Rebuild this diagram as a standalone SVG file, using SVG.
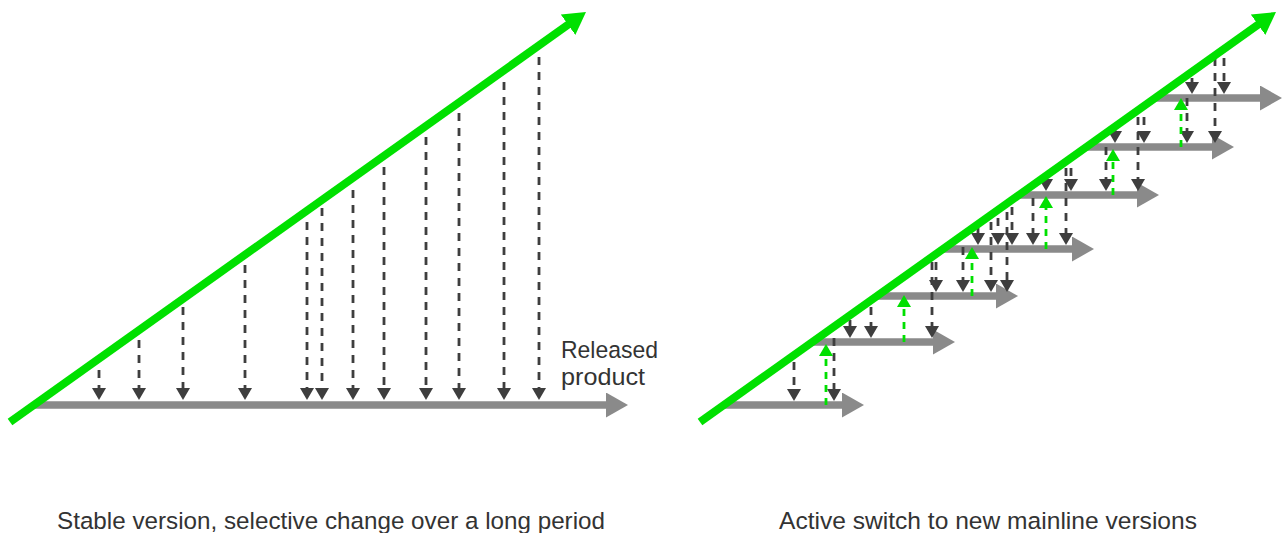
<svg xmlns="http://www.w3.org/2000/svg" width="1283" height="533" viewBox="0 0 1283 533">
<style>
.bar{stroke:#8a8a8a;stroke-width:7.5;fill:none;marker-end:url(#hgray)}
.main{stroke:#00e000;stroke-width:8;fill:none;marker-end:url(#hgreenbig)}
.dd{stroke:#3e3e3e;stroke-width:2.8;stroke-dasharray:8 7;fill:none;marker-end:url(#hd)}
.gd{stroke:#00e000;stroke-width:2.8;stroke-dasharray:7 6;fill:none;marker-end:url(#hg)}
.lbl{font-family:"Liberation Sans",Arial,sans-serif;font-size:24.5px;fill:#333}
</style>
<defs>
<marker id="hd" markerUnits="userSpaceOnUse" viewBox="0 0 12 14" markerWidth="12" markerHeight="14" refX="1" refY="7" orient="auto"><path d="M0,0 L12,7 L0,14 z" fill="#3e3e3e"/></marker>
<marker id="hg" markerUnits="userSpaceOnUse" viewBox="0 0 12 14" markerWidth="12" markerHeight="14" refX="1" refY="7" orient="auto"><path d="M0,0 L12,7 L0,14 z" fill="#00e000"/></marker>
<marker id="hgray" markerUnits="userSpaceOnUse" viewBox="0 0 22 25" markerWidth="22" markerHeight="25" refX="2" refY="12.5" orient="auto"><path d="M0,0 L22,12.5 L0,25 z" fill="#8a8a8a"/></marker>
<marker id="hgreenbig" markerUnits="userSpaceOnUse" viewBox="0 0 22 25" markerWidth="22" markerHeight="25" refX="2" refY="12.5" orient="auto"><path d="M0,0 L22,12.5 L0,25 z" fill="#00e000"/></marker>
</defs>

<g id="left-panel">
  <g id="left-released-product">
    <line class="bar" x1="34" y1="405" x2="608" y2="405"/>
    <text class="lbl" x="561" y="358" textLength="97" lengthAdjust="spacingAndGlyphs">Released</text>
    <text class="lbl" x="561" y="385" textLength="84" lengthAdjust="spacingAndGlyphs">product</text>
  </g>
  <g id="left-connectors">
    <line class="dd" x1="99" y1="370" x2="99" y2="389"/>
    <line class="dd" x1="139" y1="340" x2="139" y2="389"/>
    <line class="dd" x1="183" y1="307" x2="183" y2="389"/>
    <line class="dd" x1="245" y1="265" x2="245" y2="389"/>
    <line class="dd" x1="307" y1="222" x2="307" y2="389"/>
    <line class="dd" x1="322" y1="208" x2="322" y2="389"/>
    <line class="dd" x1="353" y1="190" x2="353" y2="389"/>
    <line class="dd" x1="384" y1="167" x2="384" y2="389"/>
    <line class="dd" x1="426" y1="137" x2="426" y2="389"/>
    <line class="dd" x1="459" y1="113" x2="459" y2="389"/>
    <line class="dd" x1="504" y1="82" x2="504" y2="389"/>
    <line class="dd" x1="539" y1="57" x2="539" y2="389"/>
  </g>
  <g id="left-mainline">
    <line class="main" x1="10" y1="422" x2="569.7" y2="23.6"/>
  </g>
  <text id="left-caption" class="lbl" x="57" y="529" textLength="548" lengthAdjust="spacingAndGlyphs">Stable version, selective change over a long period</text>
</g>

<g id="right-panel">
  <g id="right-versions">
    <line class="bar" x1="724" y1="405" x2="844" y2="405"/>
    <line class="bar" x1="812" y1="342" x2="935" y2="342"/>
    <line class="bar" x1="877" y1="296" x2="998" y2="296"/>
    <line class="bar" x1="943" y1="249" x2="1074" y2="249"/>
    <line class="bar" x1="1019" y1="195" x2="1139" y2="195"/>
    <line class="bar" x1="1086" y1="147" x2="1214" y2="147"/>
    <line class="bar" x1="1155" y1="98" x2="1262" y2="98"/>
  </g>
  <g id="right-connectors">
    <line class="dd" x1="794" y1="362" x2="794" y2="390"/>
    <line class="dd" x1="834" y1="338" x2="834" y2="390"/>

    <line class="dd" x1="850" y1="320" x2="850" y2="327"/>
    <line class="dd" x1="871" y1="307" x2="871" y2="327"/>
    <line class="dd" x1="932" y1="262" x2="932" y2="327"/>

    <line class="dd" x1="936" y1="262" x2="936" y2="281"/>
    <line class="dd" x1="963" y1="247" x2="963" y2="281"/>
    <line class="dd" x1="991" y1="222" x2="991" y2="281"/>
    <line class="dd" x1="1007" y1="212" x2="1007" y2="281"/>

    <line class="dd" x1="978" y1="228" x2="978" y2="234"/>
    <line class="dd" x1="998" y1="218" x2="998" y2="234"/>
    <line class="dd" x1="1012" y1="207" x2="1012" y2="234"/>
    <line class="dd" x1="1033" y1="198" x2="1033" y2="234"/>
    <line class="dd" x1="1066" y1="168" x2="1066" y2="234"/>

    <line class="dd" x1="1046" y1="177" x2="1046" y2="180"/>
    <line class="dd" x1="1071" y1="168" x2="1071" y2="180"/>
    <line class="dd" x1="1106" y1="147" x2="1106" y2="180"/>
    <line class="dd" x1="1138" y1="117" x2="1138" y2="180"/>

    <line class="dd" x1="1115" y1="129" x2="1115" y2="132"/>
    <line class="dd" x1="1144" y1="117" x2="1144" y2="132"/>
    <line class="dd" x1="1187" y1="98" x2="1187" y2="132"/>
    <line class="dd" x1="1215" y1="58" x2="1215" y2="132"/>

    <line class="dd" x1="1192" y1="78" x2="1192" y2="83"/>
    <line class="dd" x1="1224" y1="58" x2="1224" y2="83"/>

    <line class="gd" x1="826" y1="405" x2="826" y2="355"/>
    <line class="gd" x1="904" y1="342" x2="904" y2="306"/>
    <line class="gd" x1="972" y1="296" x2="972" y2="258"/>
    <line class="gd" x1="1046" y1="249" x2="1046" y2="207"/>
    <line class="gd" x1="1113" y1="195" x2="1113" y2="160"/>
    <line class="gd" x1="1181" y1="147" x2="1181" y2="109"/>
  </g>
  <g id="right-mainline">
    <line class="main" x1="700" y1="422" x2="1259.7" y2="23.6"/>
  </g>
  <text id="right-caption" class="lbl" x="779" y="529" textLength="418" lengthAdjust="spacingAndGlyphs">Active switch to new mainline versions</text>
</g>
</svg>
